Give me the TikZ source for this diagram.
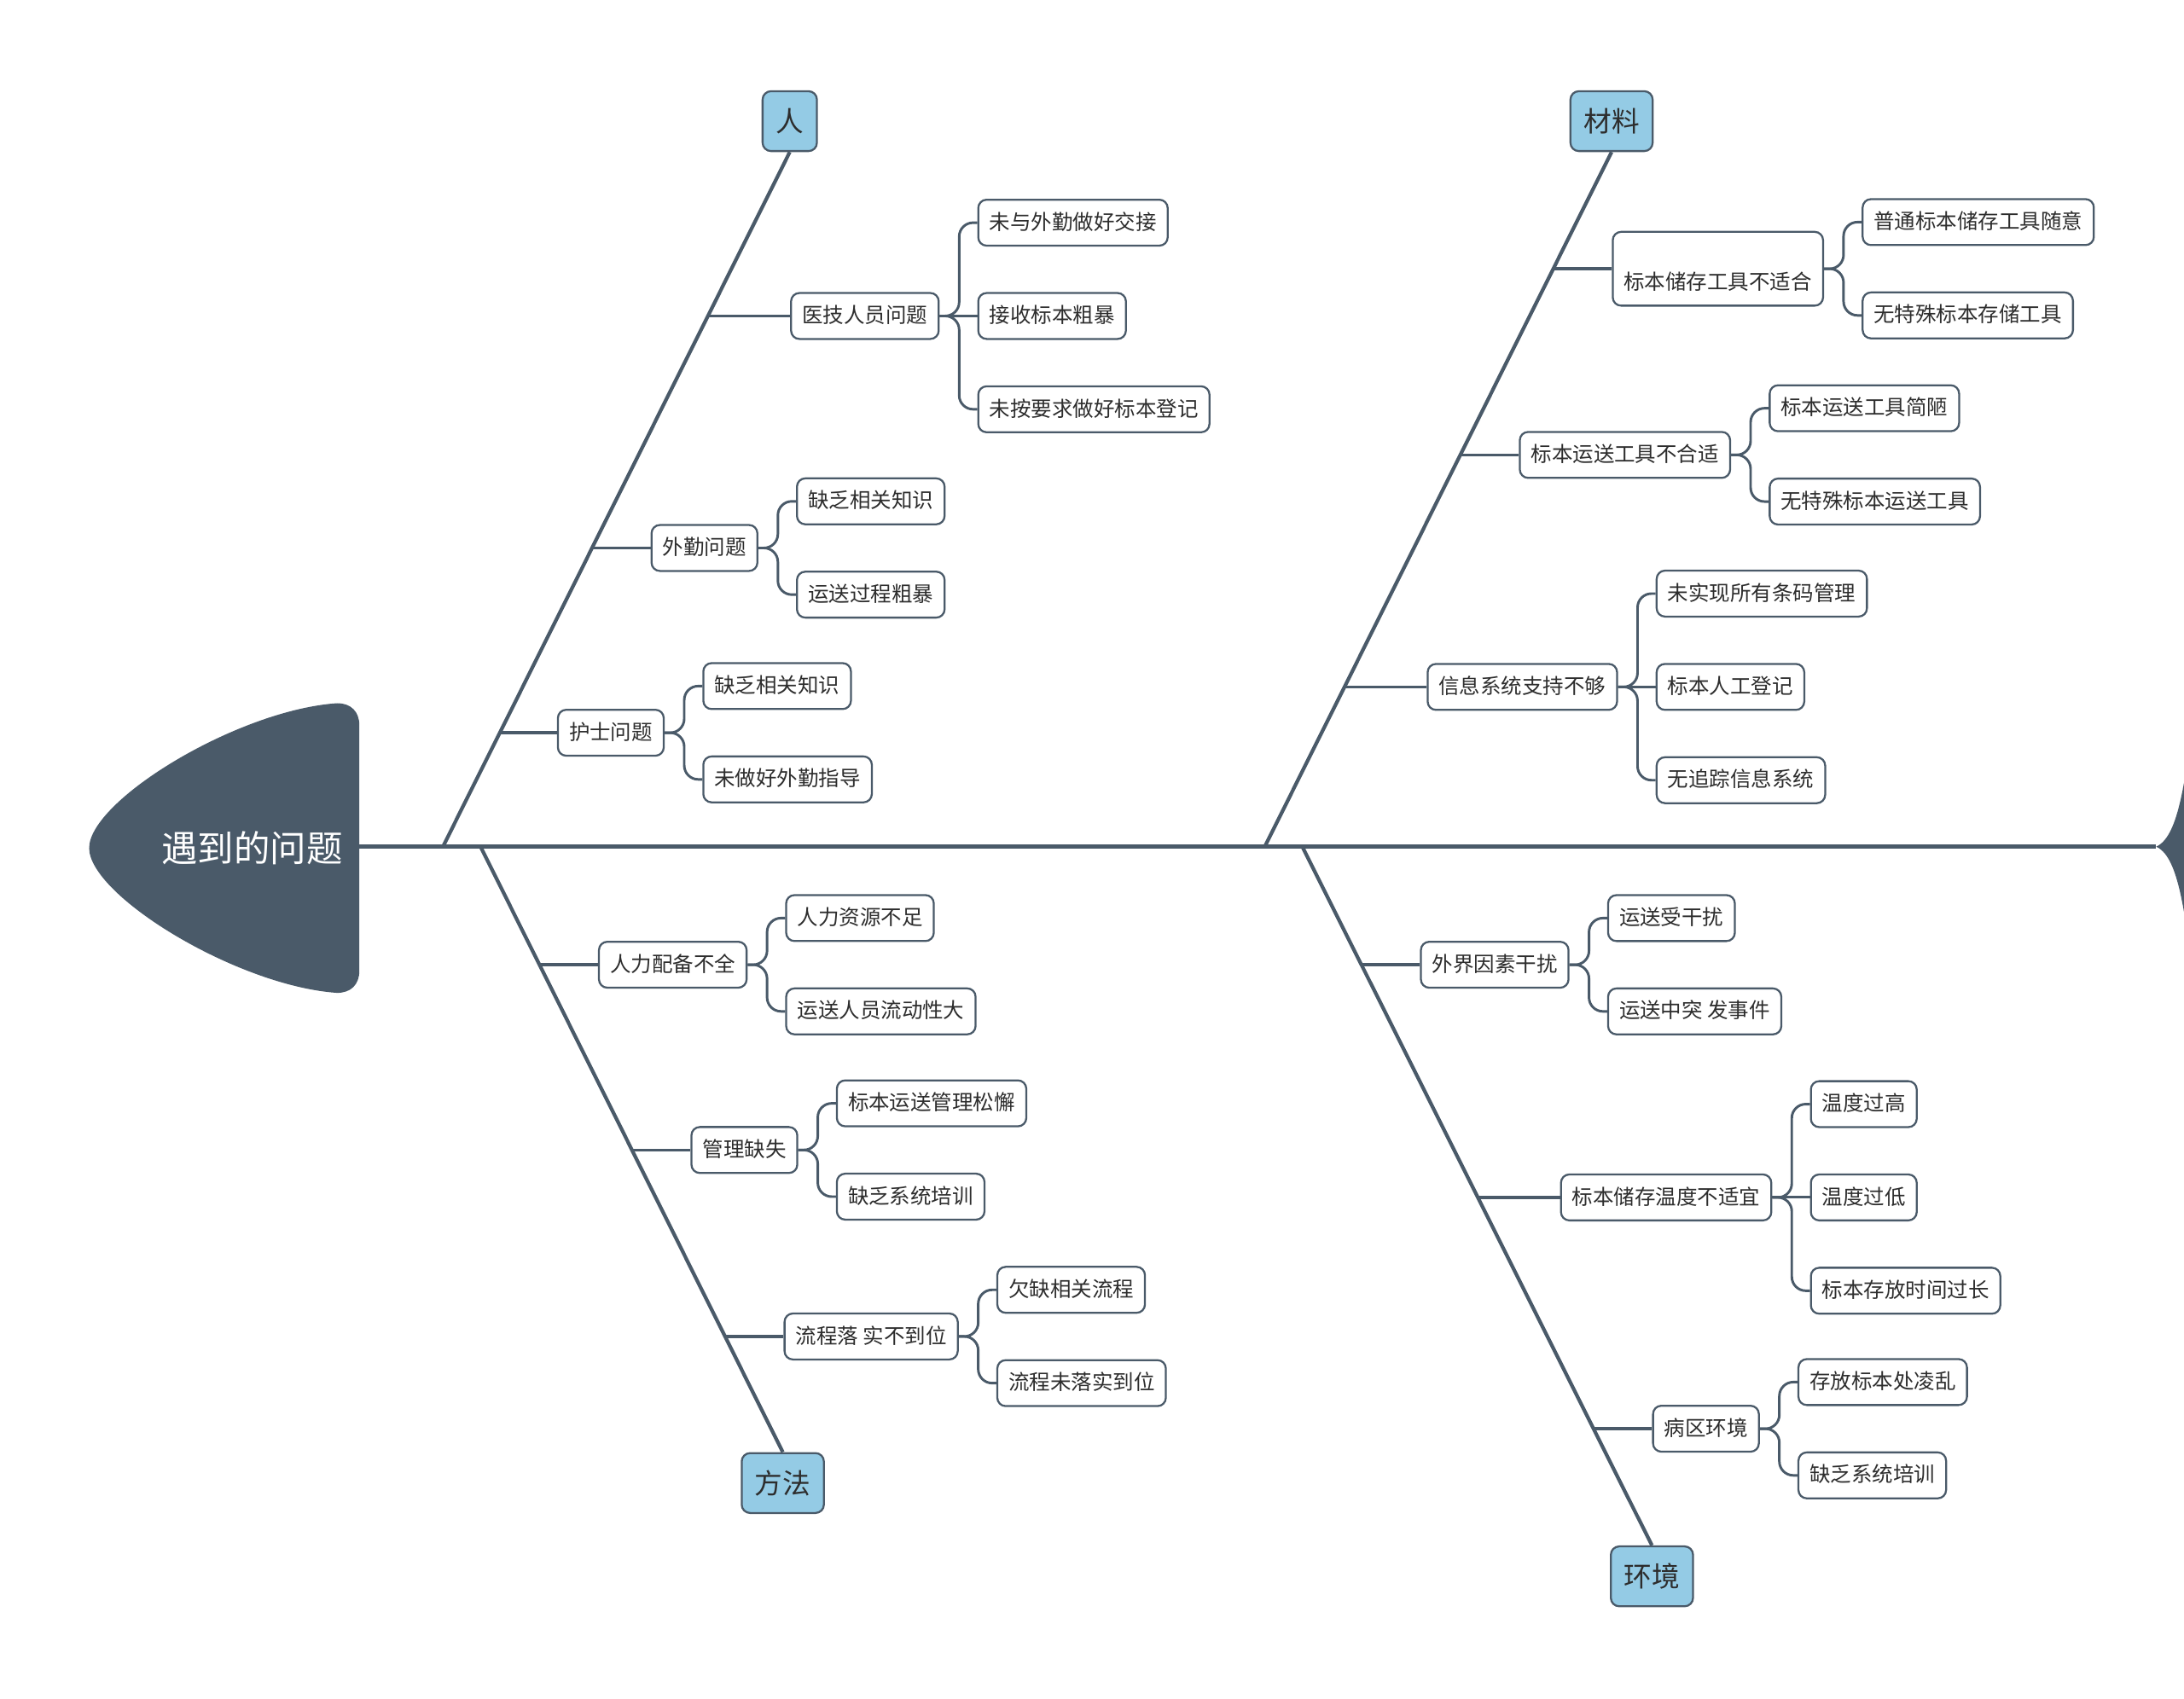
\documentclass[tikz,border=0pt]{standalone}
\usepackage{fontspec}
\setmainfont{Noto Sans CJK SC}
\usetikzlibrary{calc,positioning}
\definecolor{bonegray}{RGB}{74,90,105}
\definecolor{catblue}{RGB}{148,203,229}
\definecolor{inkgray}{RGB}{45,45,45}
\tikzset{node distance=27pt, auto,
  bone/.style={draw=bonegray, line width=2.6pt},
  twig/.style={draw=bonegray, line width=2pt},
  link/.style={draw=bonegray, line width=1.8pt, rounded corners=10pt},
  cat/.style={draw=bonegray, line width=1.4pt, fill=catblue, rounded corners=6pt,
    font=\fontsize{20pt}{24pt}\selectfont, text=inkgray, minimum height=43pt,
    minimum width=39pt, inner xsep=9.5pt, inner ysep=0pt},
  sub/.style={draw=bonegray, line width=1.4pt, fill=white, rounded corners=6pt,
    font=\fontsize{15pt}{18pt}\selectfont, text=inkgray, minimum height=33pt,
    inner xsep=8pt, inner ysep=0pt, text height=12.5pt, text depth=2.5pt},
  leaf/.style={sub}}
\begin{document}
\begin{tikzpicture}[x=1pt, y=-1pt]
  \useasboundingbox (0,0) rectangle (1568,1220);
  % head and tail
  \fill[bonegray] (242,505) .. controls (170,510) and (64,575) .. (64,609)
    .. controls (64,643) and (170,708) .. (242,713)
    .. controls (252,713) and (258,707) .. (258,697) -- (258,521)
    .. controls (258,511) and (252,505) .. (242,505) -- cycle;
  \node[font=\fontsize{26pt}{30pt}\selectfont, text=white] (head) at (181,609) {遇到的问题};
  \fill[bonegray] (1548,608) .. controls (1557,604) and (1563,590) .. (1568,562)
    -- (1568,655) .. controls (1563,626) and (1557,612) .. (1548,608) -- cycle;
  \coordinate (neck) at (258,608);
  \coordinate (tip) at (1548,608);
  \draw[bone, line width=3pt] (neck) -- (tip);

  \node[cat] (ren) at (567,87) {人};
  \node[cat] (cl) at (1157,87) {材料};
  \node[cat] (ff) at (562,1065) {方法};
  \node[cat] (hj) at (1186,1132) {环境};
  \coordinate (s1) at (318,608);
  \coordinate (s2) at (908,608);
  \coordinate (s3) at (345,608);
  \coordinate (s4) at (935,608);
  \draw[bone] (s1) -- (ren.south);
  \draw[bone] (s2) -- (cl.south);
  \draw[bone] (s3) -- (ff.north);
  \draw[bone] (s4) -- (hj.north);

  % 人
  \coordinate (p11) at ($(s1)!0.764!(ren.south)$);
  \coordinate (p12) at ($(s1)!0.43!(ren.south)$);
  \coordinate (p13) at ($(s1)!0.164!(ren.south)$);
  \node[sub, right=59pt of p11] (yj) {医技人员问题};
  \node[leaf, right=of yj, yshift=67pt] (yj1) {未与外勤做好交接};
  \node[leaf, right=of yj] (yj2) {接收标本粗暴};
  \node[leaf, right=of yj, yshift=-67pt] (yj3) {未按要求做好标本登记};
  \node[sub, right=42pt of p12] (wq) {外勤问题};
  \node[leaf, right=of wq, yshift=33.5pt] (wq1) {缺乏相关知识};
  \node[leaf, right=of wq, yshift=-33.5pt] (wq2) {运送过程粗暴};
  \node[sub, right=41pt of p13] (hs) {护士问题};
  \node[leaf, right=of hs, yshift=33.5pt] (hs1) {缺乏相关知识};
  \node[leaf, right=of hs, yshift=-33.5pt] (hs2) {未做好外勤指导};
  \draw[twig] (p11) -- (yj);
  \draw[twig] (p12) -- (wq);
  \draw[twig] (p13) -- (hs);
  \draw[link] (yj.east) -- ++(14pt,0) |- (yj1.west);
  \draw[link] (yj.east) -- (yj2.west);
  \draw[link] (yj.east) -- ++(14pt,0) |- (yj3.west);
  \draw[link] (wq.east) -- ++(14pt,0) |- (wq1.west);
  \draw[link] (wq.east) -- ++(14pt,0) |- (wq2.west);
  \draw[link] (hs.east) -- ++(14pt,0) |- (hs1.west);
  \draw[link] (hs.east) -- ++(14pt,0) |- (hs2.west);

  % 材料
  \coordinate (p21) at ($(s2)!0.832!(cl.south)$);
  \coordinate (p22) at ($(s2)!0.564!(cl.south)$);
  \coordinate (p23) at ($(s2)!0.23!(cl.south)$);
  \node[sub, right=42pt of p21, minimum height=53pt, text height=32.5pt] (cc) {标本储存工具不适合};
  \node[leaf, right=of cc, yshift=33.5pt] (cc1) {普通标本储存工具随意};
  \node[leaf, right=of cc, yshift=-33.5pt] (cc2) {无特殊标本存储工具};
  \node[sub, right=42pt of p22] (ys) {标本运送工具不合适};
  \node[leaf, right=of ys, yshift=33.5pt] (ys1) {标本运送工具简陋};
  \node[leaf, right=of ys, yshift=-33.5pt] (ys2) {无特殊标本运送工具};
  \node[sub, right=59pt of p23] (xx) {信息系统支持不够};
  \node[leaf, right=of xx, yshift=67pt] (xx1) {未实现所有条码管理};
  \node[leaf, right=of xx] (xx2) {标本人工登记};
  \node[leaf, right=of xx, yshift=-67pt] (xx3) {无追踪信息系统};
  \draw[twig] (p21) -- (cc);
  \draw[twig] (p22) -- (ys);
  \draw[twig] (p23) -- (xx);
  \draw[link] (cc.east) -- ++(14pt,0) |- (cc1.west);
  \draw[link] (cc.east) -- ++(14pt,0) |- (cc2.west);
  \draw[link] (ys.east) -- ++(14pt,0) |- (ys1.west);
  \draw[link] (ys.east) -- ++(14pt,0) |- (ys2.west);
  \draw[link] (xx.east) -- ++(14pt,0) |- (xx1.west);
  \draw[link] (xx.east) -- (xx2.west);
  \draw[link] (xx.east) -- ++(14pt,0) |- (xx3.west);

  % 方法
  \coordinate (p31) at ($(s3)!0.195!(ff.north)$);
  \coordinate (p32) at ($(s3)!0.501!(ff.north)$);
  \coordinate (p33) at ($(s3)!0.809!(ff.north)$);
  \node[sub, right=42pt of p31] (rl) {人力配备不全};
  \node[leaf, right=of rl, yshift=33.5pt] (rl1) {人力资源不足};
  \node[leaf, right=of rl, yshift=-33.5pt] (rl2) {运送人员流动性大};
  \node[sub, right=42pt of p32] (gl) {管理缺失};
  \node[leaf, right=of gl, yshift=33.5pt] (gl1) {标本运送管理松懈};
  \node[leaf, right=of gl, yshift=-33.5pt] (gl2) {缺乏系统培训};
  \node[sub, right=42pt of p33] (lc) {流程落 实不到位};
  \node[leaf, right=of lc, yshift=33.5pt] (lc1) {欠缺相关流程};
  \node[leaf, right=of lc, yshift=-33.5pt] (lc2) {流程未落实到位};
  \draw[twig] (p31) -- (rl);
  \draw[twig] (p32) -- (gl);
  \draw[twig] (p33) -- (lc);
  \draw[link] (rl.east) -- ++(14pt,0) |- (rl1.west);
  \draw[link] (rl.east) -- ++(14pt,0) |- (rl2.west);
  \draw[link] (gl.east) -- ++(14pt,0) |- (gl1.west);
  \draw[link] (gl.east) -- ++(14pt,0) |- (gl2.west);
  \draw[link] (lc.east) -- ++(14pt,0) |- (lc1.west);
  \draw[link] (lc.east) -- ++(14pt,0) |- (lc2.west);

  % 环境
  \coordinate (p41) at ($(s4)!0.169!(hj.north)$);
  \coordinate (p42) at ($(s4)!0.502!(hj.north)$);
  \coordinate (p43) at ($(s4)!0.833!(hj.north)$);
  \node[sub, right=42pt of p41] (wj) {外界因素干扰};
  \node[leaf, right=of wj, yshift=33.5pt] (wj1) {运送受干扰};
  \node[leaf, right=of wj, yshift=-33.5pt] (wj2) {运送中突 发事件};
  \node[sub, right=59pt of p42] (wd) {标本储存温度不适宜};
  \node[leaf, right=of wd, yshift=67pt] (wd1) {温度过高};
  \node[leaf, right=of wd] (wd2) {温度过低};
  \node[leaf, right=of wd, yshift=-67pt] (wd3) {标本存放时间过长};
  \node[sub, right=42pt of p43] (bq) {病区环境};
  \node[leaf, right=of bq, yshift=33.5pt] (bq1) {存放标本处凌乱};
  \node[leaf, right=of bq, yshift=-33.5pt] (bq2) {缺乏系统培训};
  \draw[twig] (p41) -- (wj);
  \draw[twig] (p42) -- (wd);
  \draw[twig] (p43) -- (bq);
  \draw[link] (wj.east) -- ++(14pt,0) |- (wj1.west);
  \draw[link] (wj.east) -- ++(14pt,0) |- (wj2.west);
  \draw[link] (wd.east) -- ++(14pt,0) |- (wd1.west);
  \draw[link] (wd.east) -- (wd2.west);
  \draw[link] (wd.east) -- ++(14pt,0) |- (wd3.west);
  \draw[link] (bq.east) -- ++(14pt,0) |- (bq1.west);
  \draw[link] (bq.east) -- ++(14pt,0) |- (bq2.west);
\end{tikzpicture}
\end{document}
